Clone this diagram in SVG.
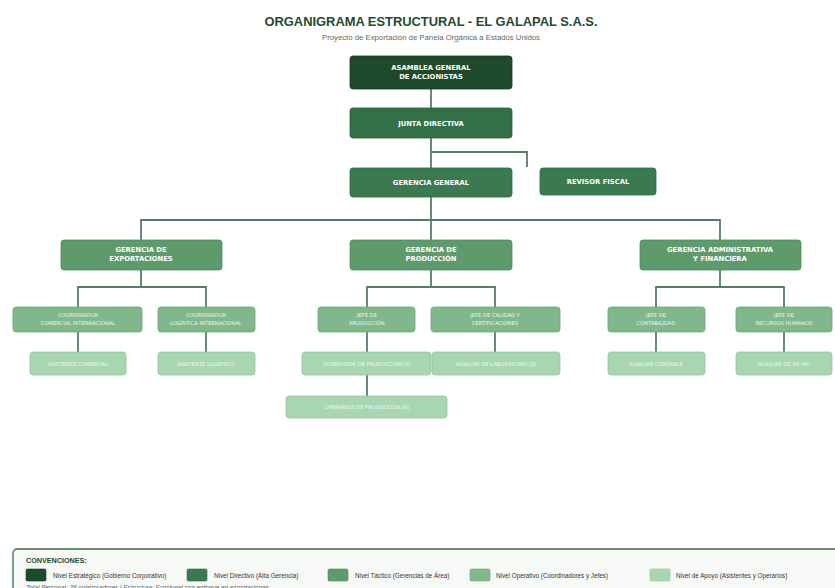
<svg xmlns="http://www.w3.org/2000/svg" width="835" height="588" viewBox="0 0 835 588">
<defs>
<style>
.bg{fill:#ffffff}
.title{font-family:"Liberation Sans",Arial,sans-serif;font-weight:bold;font-size:12.9px;fill:#1f4a2c;text-anchor:middle}
.sub{font-family:"Liberation Sans",Arial,sans-serif;font-size:7.75px;fill:#666;text-anchor:middle}
.n{stroke-width:0.8;rx:3;ry:3}
.est{fill:#1e4a2b;stroke:#153a20}
.dir{fill:#336f47;stroke:#28603b}
.dir2{fill:#3b7a50;stroke:#2f6a43}
.tac{fill:#5e9a6c;stroke:#4e8a5c}
.ope{fill:#80b88c;stroke:#6fa67c}
.apo{fill:#a9d6b2;stroke:#95c49f}
.tb{font-family:"DejaVu Sans",Verdana,sans-serif;font-weight:bold;font-size:6.8px;fill:#ffffff;text-anchor:middle}
.ts{font-family:"DejaVu Sans",Verdana,sans-serif;font-size:5.2px;fill:#eef7ef;text-anchor:middle}
.ta{font-family:"DejaVu Sans",Verdana,sans-serif;font-size:5.2px;fill:#eef8f0;text-anchor:middle}
.c{fill:none;stroke:#557f61;stroke-width:1.8}
.lg{font-family:"Liberation Sans",Arial,sans-serif;font-size:6.3px;fill:#333}
.lgt{font-family:"Liberation Sans",Arial,sans-serif;font-weight:bold;font-size:7.2px;fill:#1f4a2c}
.ft{font-family:"Liberation Sans",Arial,sans-serif;font-style:italic;font-size:6.3px;fill:#666}
</style>
</defs>
<rect class="bg" x="0" y="0" width="835" height="588"/>
<text class="title" x="431" y="26">ORGANIGRAMA ESTRUCTURAL - EL GALAPAL S.A.S.</text>
<text class="sub" x="431" y="39.5">Proyecto de Exportación de Panela Orgánica a Estados Unidos</text>

<g id="connectors">
<path class="c" d="M431 89V108"/>
<path class="c" d="M431 138V168"/>
<path class="c" d="M431 152H527V167"/>
<path class="c" d="M431 197V220"/>
<path class="c" d="M141 240V220H720V240"/>
<path class="c" d="M431 220V240"/>
<path class="c" d="M141 270V287"/>
<path class="c" d="M78 307V287H206V307"/>
<path class="c" d="M431 270V287"/>
<path class="c" d="M367 307V287H495V307"/>
<path class="c" d="M720 270V287"/>
<path class="c" d="M656 307V287H784V307"/>
<path class="c" d="M78 332V352"/>
<path class="c" d="M206 332V352"/>
<path class="c" d="M367 332V352"/>
<path class="c" d="M495 332V352"/>
<path class="c" d="M656 332V352"/>
<path class="c" d="M784 332V352"/>
<path class="c" d="M367 375V396"/>
</g>

<g id="asamblea"><rect class="n est" x="350" y="56" width="162" height="33"/><text class="tb" x="431" y="70">ASAMBLEA GENERAL</text><text class="tb" x="431" y="79">DE ACCIONISTAS</text></g>
<g id="junta"><rect class="n dir" x="350" y="108" width="162" height="30"/><text class="tb" x="431" y="125.5">JUNTA DIRECTIVA</text></g>
<g id="gerencia-general"><rect class="n dir2" x="350" y="168" width="162" height="29"/><text class="tb" x="431" y="185">GERENCIA GENERAL</text></g>
<g id="revisor"><rect class="n dir2" x="540" y="168" width="116" height="27"/><text class="tb" x="598" y="183.5">REVISOR FISCAL</text></g>

<g id="ger-exportaciones"><rect class="n tac" x="61" y="240" width="161" height="30"/><text class="tb" x="141" y="252">GERENCIA DE</text><text class="tb" x="141" y="261">EXPORTACIONES</text></g>
<g id="ger-produccion"><rect class="n tac" x="350" y="240" width="162" height="30"/><text class="tb" x="431" y="252">GERENCIA DE</text><text class="tb" x="431" y="261">PRODUCCIÓN</text></g>
<g id="ger-administrativa"><rect class="n tac" x="640" y="240" width="161" height="30"/><text class="tb" x="720" y="252">GERENCIA ADMINISTRATIVA</text><text class="tb" x="720" y="261">Y FINANCIERA</text></g>

<g id="coord-comercial"><rect class="n ope" x="13" y="307" width="129" height="25"/><text class="ts" x="78" y="316.5">COORDINADOR</text><text class="ts" x="78" y="325">COMERCIAL INTERNACIONAL</text></g>
<g id="coord-logistica"><rect class="n ope" x="158" y="307" width="97" height="25"/><text class="ts" x="206" y="316.5">COORDINADOR</text><text class="ts" x="206" y="325">LOGÍSTICA INTERNACIONAL</text></g>
<g id="jefe-produccion"><rect class="n ope" x="318" y="307" width="97" height="25"/><text class="ts" x="367" y="316.5">JEFE DE</text><text class="ts" x="367" y="325">PRODUCCIÓN</text></g>
<g id="jefe-calidad"><rect class="n ope" x="431" y="307" width="129" height="25"/><text class="ts" x="495" y="316.5">JEFE DE CALIDAD Y</text><text class="ts" x="495" y="325">CERTIFICACIONES</text></g>
<g id="jefe-contabilidad"><rect class="n ope" x="608" y="307" width="97" height="25"/><text class="ts" x="656" y="316.5">JEFE DE</text><text class="ts" x="656" y="325">CONTABILIDAD</text></g>
<g id="jefe-rrhh"><rect class="n ope" x="736" y="307" width="96" height="25"/><text class="ts" x="784" y="316.5">JEFE DE</text><text class="ts" x="784" y="325">RECURSOS HUMANOS</text></g>

<g id="asistente-comercial"><rect class="n apo" x="30" y="352" width="96" height="23"/><text class="ta" x="78" y="365.5">ASISTENTE COMERCIAL</text></g>
<g id="asistente-logistico"><rect class="n apo" x="158" y="352" width="97" height="23"/><text class="ta" x="206" y="365.5">ASISTENTE LOGÍSTICO</text></g>
<g id="supervisor"><rect class="n apo" x="302" y="352" width="129" height="23"/><text class="ta" x="367" y="365.5">SUPERVISOR DE PRODUCCIÓN (3)</text></g>
<g id="auxiliar-laboratorio"><rect class="n apo" x="432" y="352" width="128" height="23"/><text class="ta" x="496" y="365.5">AUXILIAR DE LABORATORIO (2)</text></g>
<g id="auxiliar-contable"><rect class="n apo" x="608" y="352" width="97" height="23"/><text class="ta" x="656" y="365.5">AUXILIAR CONTABLE</text></g>
<g id="auxiliar-rrhh"><rect class="n apo" x="736" y="352" width="96" height="23"/><text class="ta" x="784" y="365.5">AUXILIAR DE RR.HH.</text></g>
<g id="operarios"><rect class="n apo" x="286" y="396" width="161" height="22"/><text class="ta" x="367" y="409">OPERARIOS DE PRODUCCIÓN (8)</text></g>

<g id="legend">
<rect x="13" y="549" width="830" height="50" rx="4" ry="4" fill="#f7f9f7" stroke="#3d6a4b" stroke-width="1.3"/>
<text class="lgt" x="26" y="563">CONVENCIONES:</text>
<rect x="26" y="569" width="20" height="12" rx="1.5" fill="#1e4a2b" stroke="#153a20" stroke-width="0.6"/>
<text class="lg" x="53" y="577.5">Nivel Estratégico (Gobierno Corporativo)</text>
<rect x="187" y="569" width="20" height="12" rx="1.5" fill="#3b7a50" stroke="#2f6a43" stroke-width="0.6"/>
<text class="lg" x="214" y="577.5">Nivel Directivo (Alta Gerencia)</text>
<rect x="328" y="569" width="20" height="12" rx="1.5" fill="#5e9a6c" stroke="#4e8a5c" stroke-width="0.6"/>
<text class="lg" x="355" y="577.5">Nivel Táctico (Gerencias de Área)</text>
<rect x="470" y="569" width="20" height="12" rx="1.5" fill="#80b88c" stroke="#6fa67c" stroke-width="0.6"/>
<text class="lg" x="496" y="577.5">Nivel Operativo (Coordinadores y Jefes)</text>
<rect x="650" y="569" width="20" height="12" rx="1.5" fill="#a9d6b2" stroke="#95c49f" stroke-width="0.6"/>
<text class="lg" x="676" y="577.5">Nivel de Apoyo (Asistentes y Operarios)</text>
<text class="ft" x="26" y="589.5">Total Personal: 38 colaboradores | Estructura: Funcional con enfoque en exportaciones</text>
</g>
</svg>
